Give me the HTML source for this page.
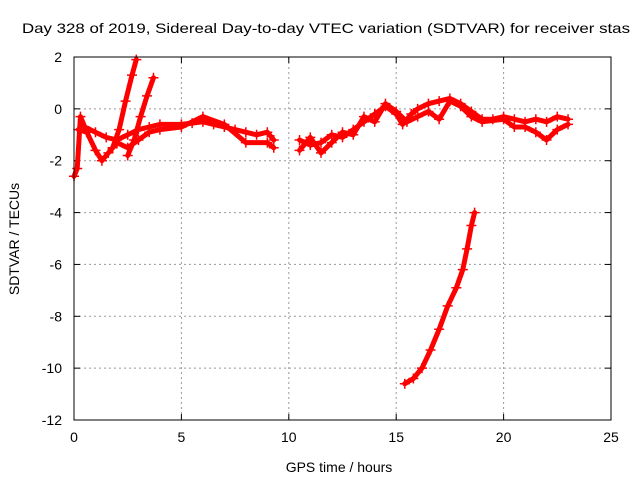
<!DOCTYPE html>
<html><head><meta charset="utf-8"><style>
body{margin:0;background:#fff}
svg{display:block}
text{font-family:"Liberation Sans",sans-serif;font-size:14px;fill:#000}
</style></head><body>
<svg id="chart" width="640" height="480">
<text x="22" y="33" textLength="608" lengthAdjust="spacingAndGlyphs">Day 328 of 2019, Sidereal Day-to-day VTEC variation (SDTVAR) for receiver stas</text>
<g id="grid"></g>
<g id="axes"></g>
<g id="series"></g>
<rect x="74" y="57" width="537" height="363" fill="none" stroke="#000"/>
<text x="339" y="472" text-anchor="middle">GPS time / hours</text>
<text x="0" y="0" transform="translate(19,239) rotate(-90)" text-anchor="middle">SDTVAR / TECUs</text>
</svg>
<script>
const xTicks=[0,5,10,15,20,25];
const yTicks=[2,0,-2,-4,-6,-8,-10,-12];
const track1=[[0,-2.6],[0.15,-2.3],[0.3,-0.3],[0.5,-0.7],[1,-0.9],[1.5,-1.1],[2,-1.2],[2.5,-1.0],[3,-0.8],[3.5,-0.7],[4,-0.6],[5,-0.6],[5.5,-0.55],[6,-0.5],[6.5,-0.6],[7,-0.7],[7.5,-0.8],[8,-0.9],[8.5,-1.0],[9,-0.9],[9.3,-1.2]];
const track2=[[0.2,-0.8],[0.6,-0.9],[1,-1.6],[1.3,-2.0],[1.6,-1.7],[2,-1.3],[2.5,-1.5],[3,-1.2],[3.5,-0.9],[4,-0.8],[5,-0.7],[6,-0.3],[7,-0.6],[8,-1.3],[9,-1.3],[9.3,-1.5]];
const track3=[[1.8,-1.5],[2.1,-0.8],[2.4,0.3],[2.7,1.3],[2.9,1.9]];
const track4=[[2.5,-1.8],[2.8,-1.2],[3.1,-0.3],[3.4,0.5],[3.7,1.2]];
const track5=[[10.5,-1.2],[11,-1.4],[11.5,-1.3],[12,-1.0],[12.5,-1.1],[13,-0.8],[13.5,-0.5],[14,-0.2],[14.5,0.1],[15,-0.2],[15.3,-0.6],[15.7,-0.2],[16,0],[16.5,0.2],[17,0.3],[17.5,0.4],[18,0.2],[18.5,-0.1],[19,-0.4],[19.5,-0.4],[20,-0.3],[20.5,-0.4],[21,-0.5],[21.5,-0.4],[22,-0.5],[22.5,-0.3],[23,-0.4]];
const track6=[[10.5,-1.6],[11,-1.1],[11.5,-1.7],[12,-1.3],[12.5,-0.9],[13,-1.0],[13.5,-0.3],[14,-0.5],[14.5,0.2],[15,-0.1],[15.5,-0.5],[16,-0.3],[16.5,-0.1],[17,-0.4],[17.5,0.3],[18,0.1],[18.5,-0.3],[19,-0.5],[20,-0.4],[20.5,-0.7],[21,-0.7],[21.5,-0.9],[22,-1.2],[22.5,-0.8],[23,-0.6]];
const track7=[[15.4,-10.6],[15.8,-10.4],[16.2,-10.0],[16.6,-9.3],[17,-8.5],[17.4,-7.6],[17.8,-6.9],[18.1,-6.2],[18.3,-5.4],[18.5,-4.5],[18.65,-4.0]];
const tracks=[track1,track2,track3,track4,track5,track6,track7];
const sx=v=>74+v*537/25, sy=v=>57+(2-v)*363/14;
const NS="http://www.w3.org/2000/svg";
function mk(t,a,p){const e=document.createElementNS(NS,t);for(const k in a)e.setAttribute(k,a[k]);p.appendChild(e);return e;}
const grid=document.getElementById('grid'),axes=document.getElementById('axes'),ser=document.getElementById('series');
xTicks.forEach(t=>{const x=sx(t);
 if(t>0&&t<25){const l=mk('line',{x1:x,x2:x,y1:57,y2:420,stroke:'#999','stroke-dasharray':'2,3'},grid);}
 mk('line',{x1:x,x2:x,y1:420,y2:414,stroke:'#000'},axes);mk('line',{x1:x,x2:x,y1:57,y2:63,stroke:'#000'},axes);
 const tx=mk('text',{x:x,y:442,'text-anchor':'middle'},axes);tx.textContent=t;
 });
yTicks.forEach(t=>{const y=sy(t);
 if(t<2&&t>-12){const l=mk('line',{x1:74,x2:611,y1:y,y2:y,stroke:'#999','stroke-dasharray':'2,3'},grid);}
 mk('line',{x1:74,x2:80,y1:y,y2:y,stroke:'#000'},axes);mk('line',{x1:611,x2:605,y1:y,y2:y,stroke:'#000'},axes);
 const tx=mk('text',{x:62,y:y+5,'text-anchor':'end'},axes);tx.textContent=t;
 });
tracks.forEach((tr,i)=>{
 const pts=tr.map(p=>sx(p[0])+','+sy(p[1])).join(' ');
 const pl=mk('polyline',{points:pts,fill:'none',stroke:'#f00','stroke-width':5,'stroke-linejoin':'round','stroke-linecap':'round'},ser);
 
 
 tr.forEach(p=>{const x=sx(p[0]),y=sy(p[1]);
  const m=mk('path',{d:`M${x-5},${y}H${x+5}M${x},${y-5}V${y+5}`,stroke:'#f00','stroke-width':1.5},ser);
  
  });
});
</script>
</body></html>
